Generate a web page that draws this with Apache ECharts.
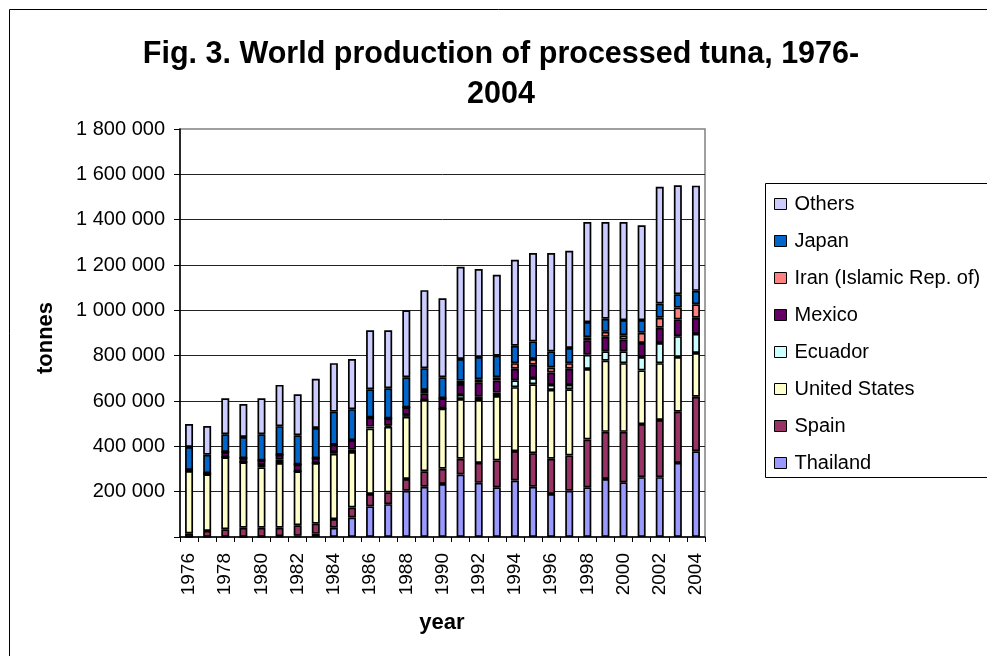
<!DOCTYPE html>
<html>
<head>
<meta charset="utf-8">
<script src="https://cdn.jsdelivr.net/npm/echarts@6/dist/echarts.min.js"></script>
<style>
html,body{margin:0;padding:0;background:#fff;}
#chart{width:987px;height:656px;}
</style>
</head>
<body>
<div id="chart"></div>
<script>
const years = ['1976','1977','1978','1979','1980','1981','1982','1983','1984','1985','1986','1987','1988','1989','1990','1991','1992','1993','1994','1995','1996','1997','1998','1999','2000','2001','2002','2003','2004'];
const thailand = [0,0,0,0,0,3000,5000,14000,41000,86000,135000,145000,204000,222000,234000,276000,239000,219000,249000,222000,190000,204000,219000,256000,241000,264000,264000,327000,378000];
const spain = [16000,27000,34000,41000,41000,38000,47000,45000,38000,44000,55000,52000,52000,68000,67000,69000,88000,119000,130000,148000,155000,156000,211000,208000,223000,234000,252000,226000,241000];
const unitedStates = [275000,250000,318000,289000,267000,285000,238000,267000,288000,245000,289000,289000,274000,314000,266000,264000,277000,284000,282000,304000,304000,292000,311000,314000,303000,237000,251000,241000,193000];
const ecuador = [0,0,0,0,10000,15000,0,0,8000,10000,8000,5000,8000,0,0,18000,15000,15000,30000,27000,22000,19000,63000,41000,52000,59000,89000,92000,84000];
const mexico = [5000,4000,23000,18000,20000,22000,30000,22000,32000,42000,40000,32000,34000,30000,45000,48000,62000,53000,51000,59000,55000,71000,64000,64000,52000,62000,67000,74000,71000];
const iran = [0,0,0,0,0,0,0,0,0,0,0,0,0,15000,0,15000,15000,15000,25000,25000,22000,25000,13000,22000,19000,45000,44000,52000,60000];
const japan = [101000,82000,78000,93000,115000,126000,129000,133000,146000,137000,125000,133000,133000,96000,93000,95000,98000,95000,77000,78000,71000,67000,67000,58000,67000,56000,63000,59000,59000];
const others = [101000,127000,159000,146000,159000,182000,181000,217000,214000,221000,260000,256000,295000,344000,348000,407000,388000,357000,379000,390000,434000,429000,442000,427000,433000,418000,515000,481000,464000];
const yTicks = [0,200000,400000,600000,800000,1000000,1200000,1400000,1600000,1800000];

const seriesDefs = [
  ['Thailand', thailand, '#9999FF'],
  ['Spain', spain, '#993366'],
  ['United States', unitedStates, '#FFFFCC'],
  ['Ecuador', ecuador, '#CCFFFF'],
  ['Mexico', mexico, '#660066'],
  ['Iran (Islamic Rep. of)', iran, '#FF8080'],
  ['Japan', japan, '#0066CC'],
  ['Others', others, '#CCCCFF']
];
const FONT = '"Liberation Sans", Arial, sans-serif';

const chart = echarts.init(document.getElementById('chart'), null, {renderer:'canvas'});
chart.setOption({
  animation: false,
  textStyle: {fontFamily: FONT, color: '#000'},
  grid: {left: 180, right: 282, top: 129, bottom: 119, show: true, borderColor: '#808080', borderWidth: 1.5, backgroundColor: 'transparent'},
  legend: {
    orient: 'vertical', left: 774, top: 193, padding: 0,
    itemWidth: 12, itemHeight: 11, itemGap: 15,
    icon: 'rect',
    data: ['Others','Japan','Iran (Islamic Rep. of)','Mexico','Ecuador','United States','Spain','Thailand'],
    itemStyle: {borderColor: '#000', borderWidth: 1},
    textStyle: {fontFamily: FONT, fontSize: 20, lineHeight: 22, color: '#000', padding: [0,0,0,3]}
  },
  xAxis: {
    type: 'category', data: years,
    axisLine: {lineStyle: {color: '#000', width: 1.5}},
    axisTick: {show: true, interval: 0, length: 5, lineStyle: {color: '#000'}},
    axisLabel: {interval: 1, rotate: 90, margin: 16, fontSize: 19, color: '#000', fontFamily: FONT},
    splitLine: {show: false}
  },
  yAxis: {
    type: 'value', min: yTicks[0], max: yTicks[yTicks.length - 1], interval: yTicks[1] - yTicks[0],
    axisLine: {show: true, lineStyle: {color: '#000', width: 1.5}},
    axisTick: {show: true, length: 6, lineStyle: {color: '#000'}},
    axisLabel: {
      margin: 15, fontSize: 20, color: '#000', fontFamily: FONT,
      formatter: function (v) { return v === 0 ? '' : String(v).replace(/\B(?=(\d{3})+(?!\d))/g, ' '); }
    },
    splitLine: {show: true, showMinLine: false, showMaxLine: false, lineStyle: {color: '#222', width: 1}}
  },
  series: seriesDefs.map(function (d) {
    return {
      name: d[0], type: 'bar', stack: 'total', data: d[1], barWidth: 8,
      itemStyle: {color: d[2], borderColor: '#000', borderWidth: 1.7}
    };
  }),
  graphic: [
    {type: 'rect', shape: {x: 9.5, y: 9.5, width: 1000, height: 700}, style: {fill: 'none', stroke: '#000', lineWidth: 1}, silent: true, z: -10},
    {type: 'rect', shape: {x: 765.5, y: 183.5, width: 260, height: 294}, style: {fill: 'none', stroke: '#000', lineWidth: 1}, silent: true},
    {type: 'text', x: 501, y: 55, style: {text: 'Fig. 3. World production of processed tuna, 1976-', font: 'bold 30.5px ' + FONT, fill: '#000', textAlign: 'center', textVerticalAlign: 'middle'}},
    {type: 'text', x: 501, y: 95, style: {text: '2004', font: 'bold 30.5px ' + FONT, fill: '#000', textAlign: 'center', textVerticalAlign: 'middle'}},
    {type: 'text', x: 46, y: 338, rotation: Math.PI / 2, style: {text: 'tonnes', font: 'bold 22px ' + FONT, fill: '#000', textAlign: 'center', textVerticalAlign: 'middle'}},
    {type: 'text', x: 442, y: 623, style: {text: 'year', font: 'bold 22px ' + FONT, fill: '#000', textAlign: 'center', textVerticalAlign: 'middle'}}
  ]
});
</script>
</body>
</html>
